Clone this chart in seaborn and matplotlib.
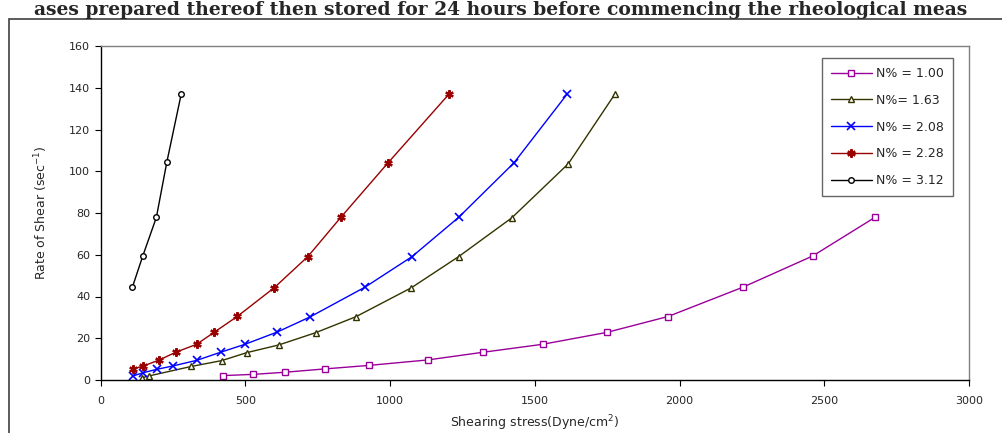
import matplotlib
matplotlib.use("Agg")
import matplotlib.pyplot as plt
import seaborn as sns
from matplotlib.patches import Rectangle

# ---- data ----
labels = ["N% = 1.00", "N%= 1.63", "N% = 2.08", "N% = 2.28", "N% = 3.12"]

x_100 = [422, 528, 636, 774, 928, 1130, 1322, 1527, 1749, 1960, 2218, 2460, 2675]
y_100 = [2.1, 2.7, 3.7, 5.3, 7.0, 9.6, 13.3, 17.1, 22.8, 30.4, 44.4, 59.4, 77.9]

x_163 = [142, 169, 314, 419, 505, 616, 744, 882, 1074, 1237, 1420, 1616, 1777]
y_163 = [1.0, 2.0, 6.5, 9.3, 13.1, 16.8, 22.7, 30.3, 44.2, 59.1, 77.6, 103.6, 137.0]

x_208 = [111, 148, 194, 249, 332, 415, 499, 611, 725, 914, 1076, 1237, 1428, 1612]
y_208 = [1.9, 3.5, 5.1, 6.7, 9.4, 13.3, 17.1, 23.0, 30.3, 44.5, 59.1, 77.9, 104.0, 137.0]

x_228 = [111, 148, 203, 260, 332, 392, 473, 600, 716, 830, 993, 1204]
y_228 = [5.3, 6.7, 9.6, 13.3, 17.1, 22.8, 30.5, 44.2, 59.1, 77.9, 104.0, 137.0]

x_312 = [110, 146, 193, 229, 279]
y_312 = [44.4, 59.4, 77.9, 104.3, 137.1]

xticks = [0, 500, 1000, 1500, 2000, 2500, 3000]
yticks = [0, 20, 40, 60, 80, 100, 120, 140, 160]

# ---- styling ----
sns.set_theme(style="white")
plt.rcParams["font.family"] = ["DejaVu Sans"]

fig = plt.figure(figsize=(10.02, 4.33), dpi=100)
ax = fig.add_axes([100.5 / 1002, 1 - 380 / 433, (969 - 100.5) / 1002, (380 - 46) / 433])

series = [
    (x_100, y_100, "#990099", "s", dict(mfc="white", ms=4, mew=1.0)),
    (x_163, y_163, "#333300", "^", dict(mfc="white", ms=5, mew=1.0)),
    (x_208, y_208, "#0000ff", "x", dict(ms=5.5, mew=1.2)),
    (x_228, y_228, "#990000", (6, 2, 0), dict(ms=6, mew=1.6)),
    (x_312, y_312, "#000000", "o", dict(mfc="white", ms=4, mew=1.0)),
]
for (xs, ys, col, mk, kw), lab in zip(series, labels):
    sns.lineplot(x=xs, y=ys, ax=ax, color=col, marker=mk, lw=1.0,
                 label=lab, sort=False, markeredgecolor=col, **kw)

ax.set_xlim(0, 3000)
ax.set_ylim(0, 160)
ax.set_xticks(xticks)
ax.set_yticks(yticks)
ax.tick_params(axis="both", labelsize=8, length=4.5, width=0.8, color="black",
               direction="out", left=True, bottom=True)
ax.tick_params(axis="x", pad=7)
ax.tick_params(axis="y", pad=3)
for s in ["left", "bottom"]:
    ax.spines[s].set_color("black")
    ax.spines[s].set_linewidth(1.0)
for s in ["top", "right"]:
    ax.spines[s].set_color("#808080")
    ax.spines[s].set_linewidth(1.0)

ax.set_xlabel("Shearing stress(Dyne/cm$^{2}$)", fontsize=9, labelpad=5)
ax.set_ylabel("Rate of Shear (sec$^{-1}$)", fontsize=9, labelpad=14)

leg = ax.legend(loc="upper right", bbox_to_anchor=(0.9816, 0.963), fontsize=9,
                frameon=True, fancybox=False, edgecolor="#404040",
                handlelength=3.3, labelspacing=1.1, borderpad=0.7,
                handletextpad=0.35, borderaxespad=0)
leg.get_frame().set_linewidth(1.0)

# outer frame and caption above
fig.patches.append(Rectangle((9 / 1002, -0.05), 1.2, 1 - 19 / 433 + 0.05,
                             transform=fig.transFigure, fill=False,
                             edgecolor="#404040", lw=1.2))
fig.text(0.5, 1 - 15 / 433,
         "ases prepared thereof then stored for 24 hours before commencing the rheological meas",
         ha="center", va="baseline", fontsize=13.5, fontweight="bold",
         family=["DejaVu Serif"])

fig.savefig("out.png", dpi=100)
